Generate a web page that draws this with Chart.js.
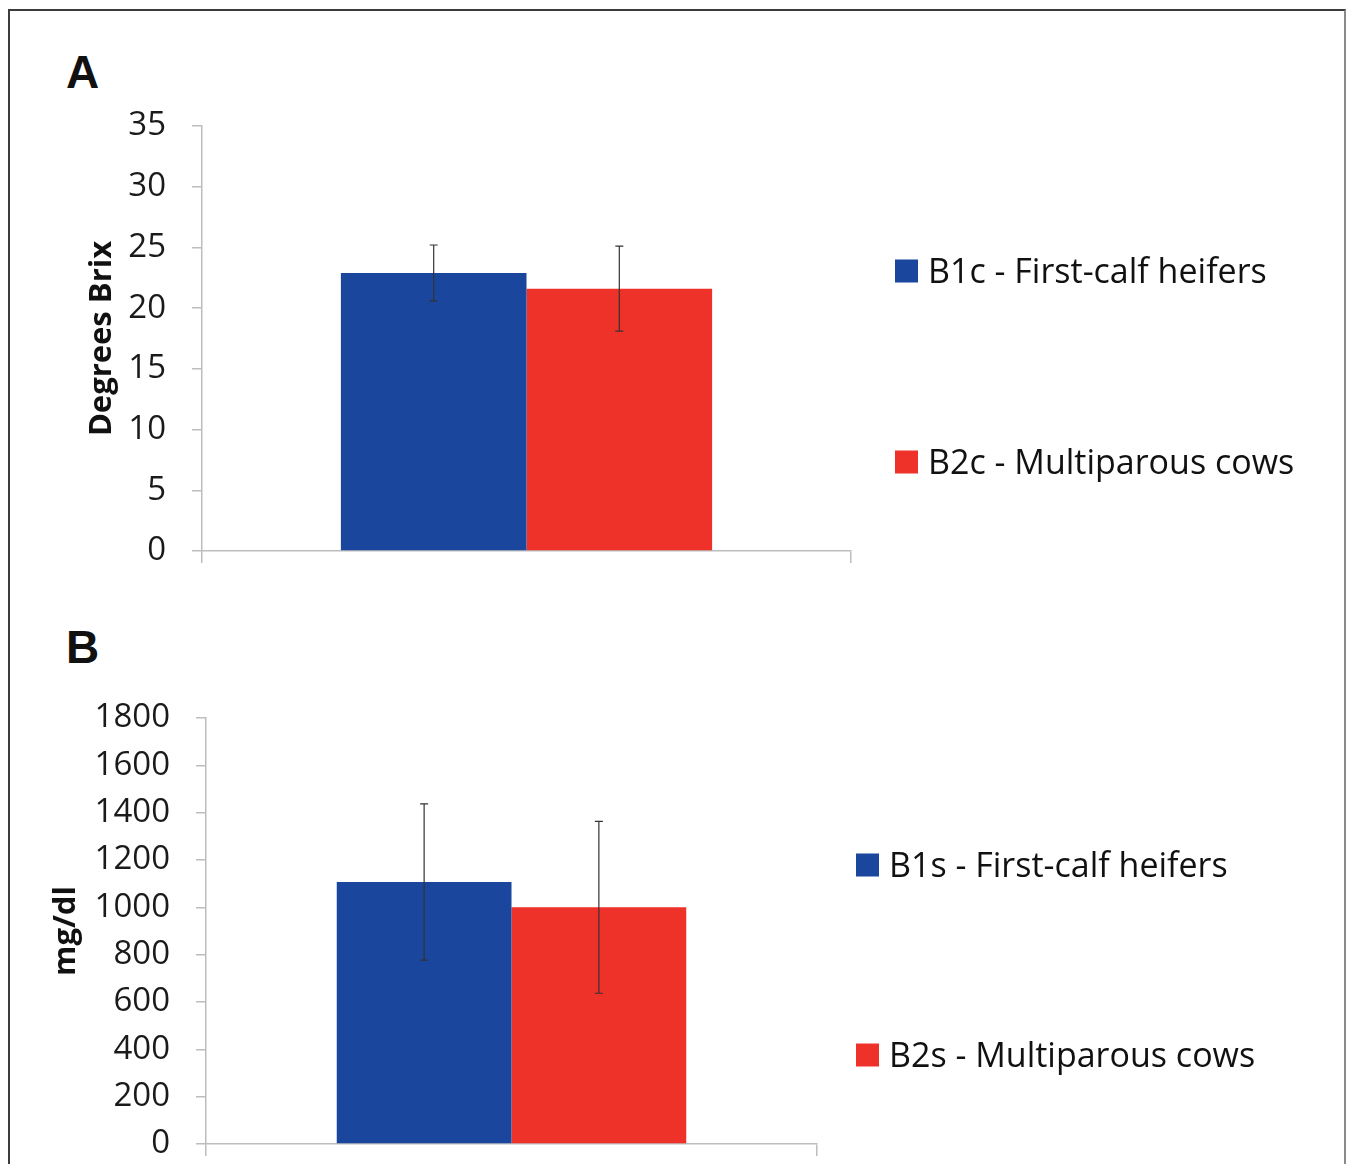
<!DOCTYPE html>
<html lang="en">
<head>
  <meta charset="UTF-8">
  <title>Colostrum quality - Brix and IgG</title>
  <style>
    body {
      margin: 0;
      background: #fff;
      width: 1346px;
      height: 1164px;
      overflow: hidden;
      position: relative;
      font-family: "Open Sans", sans-serif;
    }
    .frame {
      position: absolute;
      left: 8px;
      top: 9px;
      width: 1334px;
      height: 1200px;
      border: 2px solid #3c3c3c;
      border-right-color: #8a8a8a;
    }
    .panel-letter {
      position: absolute;
      left: 66px;
      font: bold 46px "Liberation Sans", Arial, sans-serif;
      line-height: 46px;
      color: #111;
    }
    canvas {
      position: absolute;
      left: 0;
    }
  </style>
</head>
<body>
  <div class="frame"></div>
  <div class="panel-letter" style="top:49px">A</div>
  <div class="panel-letter" style="top:624px">B</div>
  <canvas id="chartA" width="1346" height="600" style="top:0"></canvas>
  <canvas id="chartB" width="1346" height="640" style="top:560px"></canvas>

  <script src="https://cdn.jsdelivr.net/npm/chart.js"></script>
  <script>
    // panel A - refractometer readings
    const brixGroups = ['B1c - First-calf heifers', 'B2c - Multiparous cows'];
    const brixMeans = [22.9, 21.6];
    const brixErrors = [2.3, 3.5];
    const brixAxis = [0, 35, 5]; // min, max, step

    // panel B - serum / colostrum concentration
    const igGroups = ['B1s - First-calf heifers', 'B2s - Multiparous cows'];
    const igMeans = [1107, 1000];
    const igErrors = [330, 363];
    const igAxis = [0, 1800, 200];

    const barColors = ['#1A479D', '#EE3229'];
    const axisGray = '#bdbdbd';

    // Chart.js has no error bars, so draw them from the y scale
    const errorBars = {
      id: 'errorBars',
      afterDatasetsDraw(chart) {
        const ctx = chart.ctx;
        const y = chart.scales.y;
        ctx.save();
        ctx.strokeStyle = '#333';
        ctx.lineWidth = 1.2;
        chart.data.datasets.forEach((ds, i) => {
          const bar = chart.getDatasetMeta(i).data[0];
          const v = ds.data[0], e = ds.errors[0];
          const top = y.getPixelForValue(v + e);
          const bot = y.getPixelForValue(v - e);
          ctx.beginPath();
          ctx.moveTo(bar.x, top); ctx.lineTo(bar.x, bot);
          ctx.moveTo(bar.x - 4, top); ctx.lineTo(bar.x + 4, top);
          ctx.moveTo(bar.x - 4, bot); ctx.lineTo(bar.x + 4, bot);
          ctx.stroke();
        });
        ctx.restore();
      }
    };

    // legend sits far to the right with big gaps between items
    const sideLegend = {
      id: 'sideLegend',
      afterDraw(chart, args, opts) {
        const ctx = chart.ctx;
        ctx.save();
        ctx.font = '34px "Open Sans", sans-serif';
        ctx.textBaseline = 'middle';
        chart.data.datasets.forEach((ds, i) => {
          const cy = opts.rows[i];
          ctx.fillStyle = ds.backgroundColor;
          ctx.fillRect(opts.x, cy - 11.5, 23, 23);
          ctx.fillStyle = '#111';
          ctx.fillText(ds.label, opts.x + 33, cy + 2);
        });
        ctx.restore();
      }
    };

    function makeChart(id, groups, means, errors, axis, title, layout) {
      const datasets = groups.map((g, i) => ({
        label: g,
        data: [means[i]],
        errors: [errors[i]],
        backgroundColor: barColors[i],
        borderWidth: 0,
        categoryPercentage: 0.572,
        barPercentage: 1.0
      }));
      return new Chart(document.getElementById(id).getContext('2d'), {
        type: 'bar',
        data: { labels: [''], datasets: datasets },
        plugins: [errorBars, sideLegend],
        options: {
          responsive: false,
          animation: false,
          layout: { padding: layout.padding },
          plugins: {
            legend: { display: false },
            tooltip: { enabled: false },
            sideLegend: layout.legend
          },
          scales: {
            x: {
              ticks: { display: false },
              grid: { drawOnChartArea: false, drawTicks: true, tickLength: 12, color: axisGray, lineWidth: 1.5 },
              border: { color: axisGray, width: 1.5 },
              afterFit: s => { s.height = 12; }
            },
            y: {
              min: axis[0],
              max: axis[1],
              ticks: {
                stepSize: axis[2],
                padding: 26,
                color: '#1a1a1a',
                font: { family: '"Open Sans", sans-serif', size: 33 },
                callback: v => String(v)
              },
              grid: { drawOnChartArea: false, drawTicks: true, tickLength: 10, color: axisGray, lineWidth: 1.5 },
              border: { color: axisGray, width: 1.5 },
              title: {
                display: true,
                text: title,
                color: '#111',
                font: { family: '"Open Sans", sans-serif', size: 31, weight: 'bold' },
                padding: { top: layout.titleOffset, bottom: 0 }
              },
              afterFit: s => { s.width = layout.axisX; }
            }
          }
        }
      });
    }

    makeChart('chartA', brixGroups, brixMeans, brixErrors, brixAxis, 'Degrees Brix', {
      padding: { left: 0, top: 126, right: 495, bottom: 37 },
      axisX: 202,
      titleOffset: 84,
      legend: { x: 895, rows: [271, 462] }
    });

    makeChart('chartB', igGroups, igMeans, igErrors, igAxis, 'mg/dl', {
      padding: { left: 0, top: 158, right: 529, bottom: 44 },
      axisX: 206,
      titleOffset: 48,
      legend: { x: 856, rows: [305, 495] }
    });
  </script>
</body>
</html>
